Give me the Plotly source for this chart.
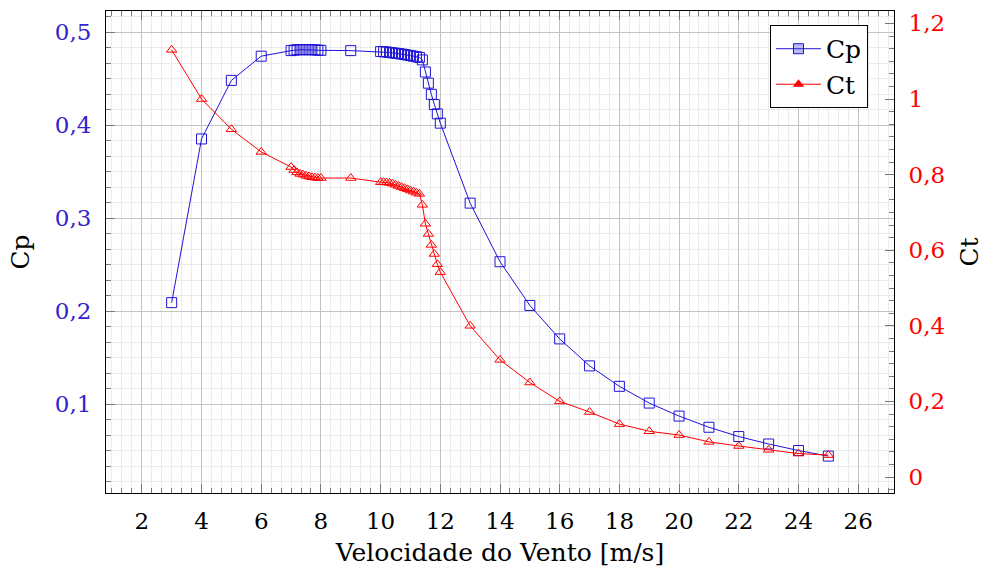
import plotly.graph_objects as go

speeds = [3, 4, 5, 6,
          7.0, 7.1, 7.2, 7.3, 7.4, 7.5, 7.6, 7.7, 7.8, 7.9, 8.0,
          9,
          10.0, 10.1, 10.2, 10.3, 10.4, 10.5, 10.6, 10.7, 10.8, 10.9, 11.0, 11.1, 11.2, 11.3,
          11.4, 11.5, 11.6, 11.7, 11.8, 11.9, 12,
          13, 14, 15, 16, 17, 18, 19, 20, 21, 22, 23, 24, 25]

cp = [0.209, 0.385, 0.448, 0.474,
      0.480, 0.4805, 0.481, 0.481, 0.481, 0.481, 0.481, 0.481, 0.4808, 0.4805, 0.4803,
      0.480,
      0.479, 0.4788, 0.4785, 0.478, 0.4776, 0.4772, 0.4768, 0.4763, 0.4758, 0.4752, 0.4746, 0.474, 0.4734, 0.4727,
      0.470, 0.457, 0.445, 0.433, 0.422, 0.412, 0.402,
      0.316, 0.253, 0.206, 0.170, 0.141, 0.119, 0.101, 0.087, 0.075, 0.065, 0.057, 0.050, 0.044]

ct = [1.13, 1.00, 0.92, 0.86,
      0.820, 0.812, 0.806, 0.802, 0.800, 0.797, 0.795, 0.793, 0.792, 0.791, 0.791,
      0.791,
      0.780, 0.780, 0.779, 0.778, 0.776, 0.773, 0.770, 0.767, 0.764, 0.761, 0.758, 0.755, 0.752, 0.749,
      0.720, 0.670, 0.643, 0.614, 0.590, 0.563, 0.542,
      0.400, 0.310, 0.250, 0.200, 0.172, 0.140, 0.121, 0.111, 0.093, 0.082, 0.072, 0.062, 0.058]

x_ticks = [2, 4, 6, 8, 10, 12, 14, 16, 18, 20, 22, 24, 26]
cp_ticks = [0.1, 0.2, 0.3, 0.4, 0.5]
cp_labels = ["0,1", "0,2", "0,3", "0,4", "0,5"]
ct_ticks = [0, 0.2, 0.4, 0.6, 0.8, 1.0, 1.2]
ct_labels = ["0", "0,2", "0,4", "0,6", "0,8", "1", "1,2"]

BLUE = "rgb(30,20,215)"
BLUE_TXT = "rgb(50,35,205)"
RED = "rgb(255,0,0)"
TICKC = "rgb(120,120,120)"
FONT = "DejaVu Serif"

fig = go.Figure()
fig.add_trace(go.Scatter(
    x=speeds, y=cp, mode="lines+markers", name="Cp", showlegend=False,
    line=dict(color=BLUE, width=1),
    marker=dict(symbol="square-open", size=10, color=BLUE, line=dict(width=1)),
    yaxis="y"))
fig.add_trace(go.Scatter(
    x=speeds, y=ct, mode="lines+markers", name="Ct", showlegend=False,
    line=dict(color=RED, width=1),
    marker=dict(symbol="triangle-up-open", size=9, color=RED, line=dict(width=1)),
    yaxis="y2"))
# legend entries
fig.add_trace(go.Scatter(
    x=[None], y=[None], mode="lines+markers", name="Cp",
    line=dict(color=BLUE, width=1),
    marker=dict(symbol="square", size=10, color="rgba(60,60,230,0.35)", line=dict(width=1, color=BLUE)),
    yaxis="y"))
fig.add_trace(go.Scatter(
    x=[None], y=[None], mode="lines+markers", name="Ct",
    line=dict(color=RED, width=1),
    marker=dict(symbol="triangle-up", size=10, color=RED),
    yaxis="y2"))

fig.update_layout(
    width=984, height=573,
    margin=dict(l=106, r=90, t=11, b=80),
    paper_bgcolor="white", plot_bgcolor="white",
    font=dict(family=FONT, size=23, color="black"),
    xaxis=dict(
        range=[0.8, 27.2], tickvals=x_ticks, ticks="inside", ticklen=9, tickcolor=TICKC,
        showline=True, linecolor="black", linewidth=1, mirror="ticks",
        showgrid=True, gridcolor="rgb(195,195,195)", gridwidth=1, zeroline=False,
        minor=dict(dtick=1/3, tick0=0, ticks="inside", ticklen=5, tickcolor=TICKC,
                   showgrid=True, gridcolor="rgb(235,235,235)", gridwidth=1),
        title=dict(text="Velocidade do Vento [m/s]", standoff=10, font=dict(family=FONT, size=25)),
        ticklabelstandoff=7, automargin=False,
    ),
    yaxis=dict(
        range=[0.0043, 0.5226], tickvals=cp_ticks, ticktext=cp_labels,
        ticks="inside", ticklen=9, tickcolor=TICKC,
        showline=True, linecolor="black", linewidth=1, mirror=False,
        showgrid=True, gridcolor="rgb(195,195,195)", gridwidth=1, zeroline=False,
        minor=dict(dtick=0.1/6, tick0=0, ticks="inside", ticklen=5, tickcolor=TICKC,
                   showgrid=True, gridcolor="rgb(235,235,235)", gridwidth=1),
        tickfont=dict(family=FONT, color=BLUE_TXT),
        title=dict(text="Cp", standoff=18, font=dict(family=FONT, size=25)),
        ticklabelstandoff=9, automargin=False,
    ),
    yaxis2=dict(
        range=[-0.0423, 1.2328], tickvals=ct_ticks, ticktext=ct_labels,
        overlaying="y", side="right", anchor="x",
        ticks="inside", ticklen=9, tickcolor=TICKC,
        showline=True, linecolor="black", linewidth=1,
        showgrid=False, zeroline=False,
        minor=dict(dtick=0.2/6, tick0=0, ticks="inside", ticklen=5, tickcolor=TICKC, showgrid=False),
        tickfont=dict(family=FONT, color=RED),
        title=dict(text="Ct", standoff=24, font=dict(family=FONT, size=25)),
        ticklabelstandoff=9, automargin=False,
    ),
    legend=dict(
        x=0.967, y=0.971, xanchor="right", yanchor="top",
        bordercolor="black", borderwidth=1, bgcolor="white",
        font=dict(family=FONT, size=25), itemwidth=45, tracegroupgap=0,
    ),
)

fig.write_html("out.html")
